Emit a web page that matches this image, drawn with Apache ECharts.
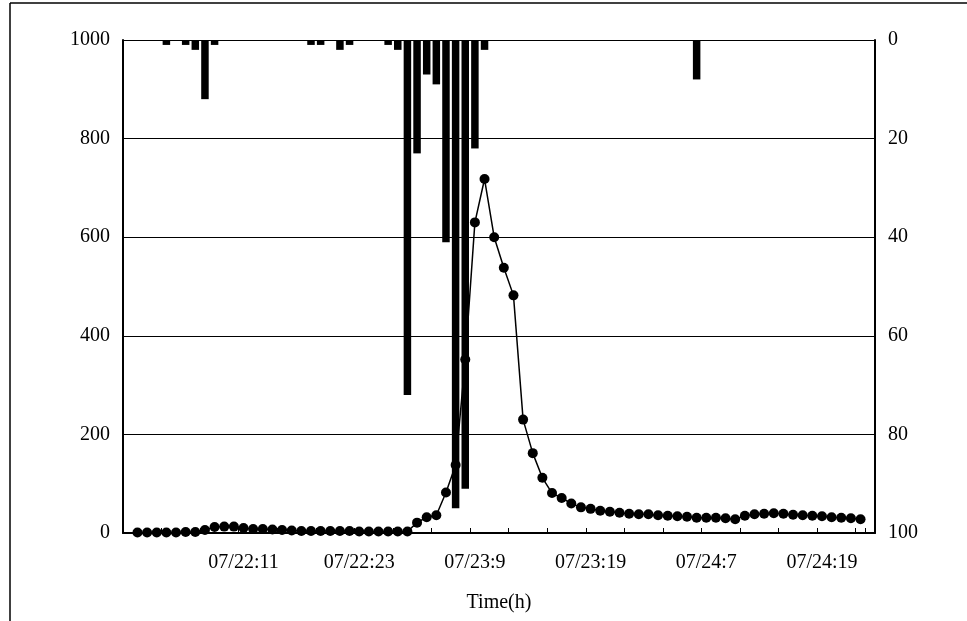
<!DOCTYPE html>
<html>
<head>
<meta charset="utf-8">
<script src="https://cdn.jsdelivr.net/npm/echarts@6/dist/echarts.min.js"></script>
<style>html,body{margin:0;padding:0;background:#fff}#c{width:967px;height:621px}</style>
</head>
<body>
<div id="c"></div>
<script>
// 78 time steps (category slots); flow observed at slots 1..76
const stepCount = 78;
const categories = Array.from({length: stepCount}, (_, i) => String(i));
const tickLabelIndex = [12, 24, 36, 48, 60, 72];
const tickLabels = ['07/22:11', '07/22:23', '07/23:9', '07/23:19', '07/24:7', '07/24:19'];

// discharge (left axis)
const flow = [
  null,
  1, 1, 1, 1, 1, 2, 2, 6, 12, 13, 13, 10, 8, 8, 7, 6, 5,
  4, 4, 4, 4, 4, 4, 3, 3, 3, 3, 3, 3,
  21, 32, 36, 82, 138, 352, 630, 718, 600, 538, 482, 230, 162, 112, 81, 71,
  60, 52, 49, 45, 43, 41, 39, 38, 38, 36, 35, 34, 33, 31, 31, 31, 30, 28,
  35, 38, 39, 40, 39, 37, 36, 35, 34, 32, 31, 30, 28,
  null
];

// rainfall (right axis, inverted)
const rainIndex = [4, 6, 7, 8, 9, 19, 20, 22, 23, 27, 28, 29, 30, 31, 32, 33, 34, 35, 36, 37, 59];
const rainValue = [1, 1, 2, 12, 1, 1, 1, 2, 1, 1, 2, 72, 23, 7, 9, 41, 95, 91, 22, 2, 8];

const leftTicks = {min: 0, max: 1000, interval: 200};
const rightTicks = {min: 0, max: 100, interval: 20};

const rain = new Array(stepCount).fill(null);
rainIndex.forEach((k, i) => { rain[k] = rainValue[i]; });
const labelMap = {};
tickLabelIndex.forEach((k, i) => { labelMap[k] = tickLabels[i]; });

const FONT = '"Liberation Serif", "DejaVu Serif", serif';
const FS = 20;
const chart = echarts.init(document.getElementById('c'), null, {renderer: 'canvas'});
chart.setOption({
  animation: false,
  backgroundColor: '#fff',
  textStyle: {fontFamily: FONT, color: '#000'},
  grid: {left: 123, right: 92, top: 40, bottom: 88, containLabel: false},
  graphic: [
    {type: 'line', shape: {x1: 10, y1: 3, x2: 967, y2: 3}, style: {stroke: '#000', lineWidth: 1.5}},
    {type: 'line', shape: {x1: 10, y1: 3, x2: 10, y2: 621}, style: {stroke: '#000', lineWidth: 1.5}}
  ],
  xAxis: {
    type: 'category',
    data: categories,
    boundaryGap: true,
    name: 'Time(h)',
    nameLocation: 'middle',
    nameGap: 60,
    nameTextStyle: {fontFamily: FONT, fontSize: FS, color: '#000'},
    axisLine: {show: true, lineStyle: {color: '#000', width: 2}},
    axisTick: {show: true, inside: true, length: 5, interval: 3, lineStyle: {color: '#000', width: 1}},
    axisLabel: {
      interval: 0, margin: 20, fontFamily: FONT, fontSize: FS, color: '#000',
      formatter: (v, idx) => labelMap[idx] || ''
    },
    splitLine: {show: false}
  },
  yAxis: [
    {
      type: 'value', min: leftTicks.min, max: leftTicks.max, interval: leftTicks.interval,
      position: 'left',
      axisLine: {show: true, lineStyle: {color: '#000', width: 2}},
      axisTick: {show: false},
      axisLabel: {margin: 13, fontFamily: FONT, fontSize: FS, color: '#000', formatter: v => String(v)},
      splitLine: {show: true, lineStyle: {color: '#000', width: 1}}
    },
    {
      type: 'value', min: rightTicks.min, max: rightTicks.max, interval: rightTicks.interval,
      position: 'right', inverse: true,
      axisLine: {show: true, lineStyle: {color: '#000', width: 2}},
      axisTick: {show: false},
      axisLabel: {margin: 13, fontFamily: FONT, fontSize: FS, color: '#000', formatter: v => String(v)},
      splitLine: {show: false}
    }
  ],
  series: [
    {
      type: 'line', yAxisIndex: 0, data: flow, z: 2,
      symbol: 'circle', symbolSize: 10, showAllSymbol: true,
      lineStyle: {color: '#000', width: 1.5},
      itemStyle: {color: '#000'}
    },
    {
      type: 'bar', yAxisIndex: 1, data: rain, z: 3,
      barWidth: 7.5,
      itemStyle: {color: '#000'}
    }
  ]
});
</script>
</body>
</html>
